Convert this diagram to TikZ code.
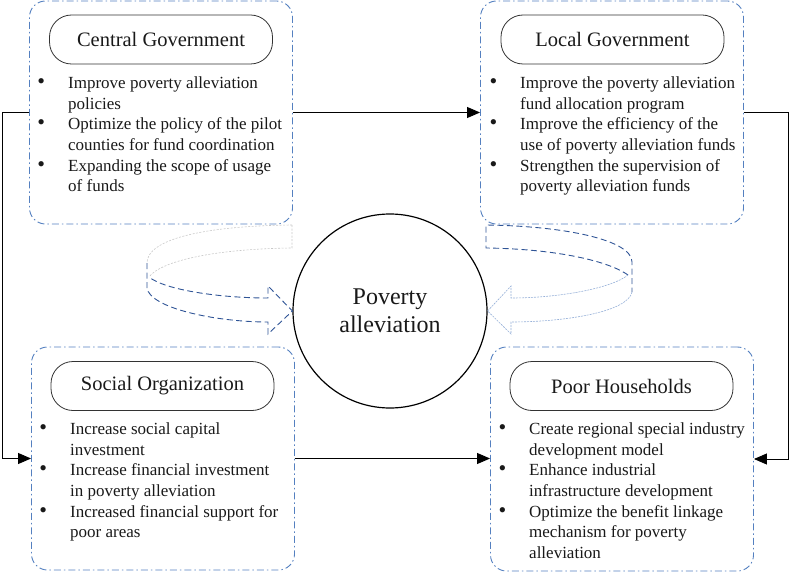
\documentclass[tikz,border=0pt]{standalone}
\usepackage{fontspec}
\setmainfont{Liberation Serif}
\usepackage{xcolor}
\usetikzlibrary{arrows.meta}
\definecolor{grpblue}{RGB}{84,128,192}
\definecolor{flowblue}{RGB}{47,84,150}
\definecolor{backgray}{RGB}{200,200,200}
\definecolor{frontblue}{RGB}{150,176,216}
\newcommand{\bul}{\llap{{\fontsize{22}{20}\selectfont\textbullet}\hspace{23pt}}}
\tikzset{
  group/.style={rectangle, rounded corners=16pt, draw=grpblue, line width=0.9pt,
                dash pattern=on 7pt off 3pt on 1.5pt off 3pt,
                minimum width=263pt, minimum height=223pt},
  title/.style={rectangle, rounded corners=22pt, draw=black!80, line width=0.8pt,
                minimum width=223pt, minimum height=49pt, inner sep=0pt,
                font=\fontsize{20.5}{24}\selectfont, text=black!90},
  items/.style={anchor=north west, align=left, inner sep=0pt,
                font=\fontsize{17}{20.7}\selectfont, text=black!90},
  hub/.style={circle, draw=black, line width=1.2pt, minimum size=194pt,
              align=center, font=\fontsize{24}{28}\selectfont, text=black!90},
  arrow/.style={-{Triangle[length=13pt, width=11pt]}, line width=0.9pt},
  flow/.style={draw=flowblue, line width=0.9pt, dash pattern=on 6pt off 3.5pt},
  back/.style={draw=backgray, line width=0.6pt, dash pattern=on 2pt off 1.5pt},
  front/.style={draw=frontblue, line width=0.6pt, dash pattern=on 2pt off 1pt},
}

\begin{document}
\begin{tikzpicture}[x=1pt, y=-1pt]
  \useasboundingbox (0,0) rectangle (789,572);
  \node[group] (cg) at (161,112.5) {};
  \node[title] (cgt) at (161,39.5) {Central Government};
  \node[items] (cgi) at (68,76.4) {\bul Improve poverty alleviation\\policies\\\bul Optimize the policy of the pilot\\counties for fund coordination\\\bul Expanding the scope of usage\\of funds};
  \node[group] (lg) at (612,112.5) {};
  \node[title] (lgt) at (612.5,39.5) {Local Government};
  \node[items] (lgi) at (520,76.4) {\bul Improve the poverty alleviation\\fund allocation program\\\bul Improve the efficiency of the\\use of poverty alleviation funds\\\bul Strengthen the supervision of\\poverty alleviation funds};
  \node[group] (so) at (163,458.5) {};
  \node[title] (sot) at (162.5,386) {Social Organization};
  \node[items] (soi) at (70,422.4) {\bul Increase social capital\\investment\\\bul Increase financial investment\\in poverty alleviation\\\bul Increased financial support for\\poor areas};
  \node[group, minimum height=224pt] (ph) at (622,459) {};
  \node[title] (pht) at (621.5,386) {Poor Households};
  \node[items] (phi) at (529,422.4) {\bul Create regional special industry\\development model\\\bul Enhance industrial\\infrastructure development\\\bul Optimize the benefit linkage\\mechanism for poverty\\alleviation};
  \node[hub] (hub) at (390,311) {Poverty\\alleviation};
  \draw[arrow] (cg.east) -- (lg.west);
  \draw[arrow] (cg.west) -- ++(-27,0) |- (so.west);
  \draw[arrow] (lg.east) -- ++(44.5,0) |- (ph.east);
  \draw[arrow] (so.east) -- (so.east -| ph.west);
  \draw[back] (292,225) .. controls (200,226) and (147,240) .. (147,263);
  \draw[back] (292,225) -- (292,248) .. controls (210,249) and (160,262) .. (149,277);
  \draw[flow] (147,263) -- (147,288) .. controls (150,308) and (215,322) .. (268,322) -- (268,334) -- (hub.west) -- (268,286) -- (268,298) .. controls (220,298) and (165,290) .. (149,277);
  \draw[flow] (628,275) .. controls (610,262) and (560,249) .. (486,248) -- (486,225) .. controls (565,226) and (632,240) .. (632,262) -- (632,292);
  \draw[front] (632,292) .. controls (628,312) and (565,322) .. (511,322) -- (511,334) -- (hub.east) -- (511,286) -- (511,298) .. controls (560,298) and (612,288) .. (628,275);
\end{tikzpicture}
\end{document}
